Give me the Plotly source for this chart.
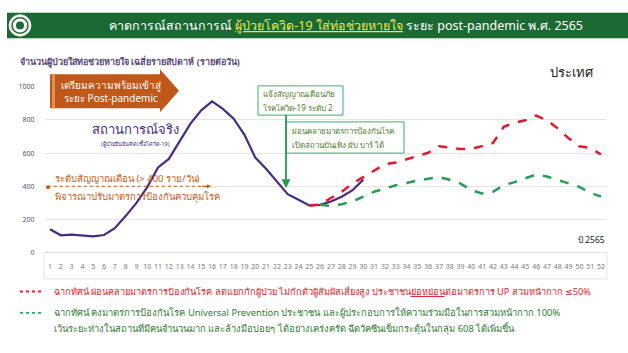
import plotly.graph_objects as go

W, H = 628, 353

weeks_actual = list(range(1, 31))
actual = [141, 104, 108, 105, 98, 106, 147, 220, 300, 395, 514, 565, 670, 778, 858,
          912, 867, 808, 710, 573, 505, 425, 352, 318, 284, 288, 308, 337, 376, 440]

weeks_red = list(range(25, 53))
red = [284, 290, 329, 367, 417, 455, 494, 533, 543, 563, 582, 602, 641, 631, 625,
       625, 641, 661, 759, 784, 798, 827, 798, 749, 690, 641, 631, 592]

weeks_green = list(range(26, 53))
green = [288, 282, 292, 308, 337, 367, 386, 406, 420, 435, 445, 455, 439, 416, 376,
         357, 367, 406, 425, 449, 471, 459, 439, 420, 396, 361, 337]

x_ticks = list(range(1, 53))
y_ticks = [0, 200, 400, 600, 800, 1000]

FONT = "Noto Sans, DejaVu Sans, sans-serif"
PURPLE = "#4b2a84"
RED = "#e3182d"
GREEN = "#23a04f"
ORANGE = "#c55a11"
BOXGREEN = "#3daf6a"
TXTGREEN = "#4d7c2a"


def px(x):
    return x / W


def py(y):
    return 1 - y / H


fig = go.Figure()
fig.add_trace(go.Scatter(x=weeks_actual, y=actual, mode="lines",
                         line=dict(color=PURPLE, width=2.2), hoverinfo="skip"))
fig.add_trace(go.Scatter(x=weeks_green, y=green, mode="lines",
                         line=dict(color=GREEN, width=2.5, dash="dash"), hoverinfo="skip"))
fig.add_trace(go.Scatter(x=weeks_red, y=red, mode="lines",
                         line=dict(color=RED, width=2.5, dash="dash"), hoverinfo="skip"))

x0p, x1p = 44.6, 606.4
fig.update_layout(
    width=W, height=H, margin=dict(l=0, r=0, t=0, b=0),
    paper_bgcolor="white", plot_bgcolor="white", showlegend=False,
    font=dict(family=FONT),
    xaxis=dict(domain=[px(x0p), px(x1p)], range=[0.5, 52.5], tickmode="array",
               tickvals=x_ticks, ticktext=[str(v) for v in x_ticks],
               tickfont=dict(size=7, color="#7a7a7a"), showgrid=False,
               zeroline=False, showline=False, ticks="outside", ticklen=7,
               tickcolor="rgba(0,0,0,0)", fixedrange=True),
    yaxis=dict(domain=[py(254), py(84)], range=[0, 1000], tickmode="array",
               tickvals=y_ticks, ticktext=[str(v) for v in y_ticks],
               tickfont=dict(size=7, color="#5a4a7a"), showgrid=True,
               gridcolor="#e4e4e4", gridwidth=1, zeroline=False, showline=False,
               ticklabelstandoff=9, fixedrange=True),
)

shapes = []
# header band
shapes.append(dict(type="rect", xref="paper", yref="paper", x0=px(7), x1=1,
                   y0=py(34), y1=py(8), fillcolor="#1b6a33", line=dict(width=0), layer="below"))
# logo
shapes.append(dict(type="circle", xref="paper", yref="paper", x0=px(9), x1=px(31),
                   y0=py(32), y1=py(10), fillcolor="white", line=dict(color="#d9d9d9", width=1)))
shapes.append(dict(type="circle", xref="paper", yref="paper", x0=px(12), x1=px(28),
                   y0=py(29), y1=py(13), fillcolor="white", line=dict(color="#1b6a33", width=1.5)))
shapes.append(dict(type="circle", xref="paper", yref="paper", x0=px(16), x1=px(24),
                   y0=py(25), y1=py(17), fillcolor="#1b6a33", line=dict(width=0)))
# x label box
shapes.append(dict(type="rect", xref="paper", yref="paper", x0=px(44), x1=px(607),
                   y0=py(281), y1=py(254), fillcolor="rgba(0,0,0,0)",
                   line=dict(color="#e2e2e2", width=1)))
# orange arrow
pts = [(50, 71), (160, 71), (160, 66), (179, 88), (160, 110), (160, 106), (50, 106)]
path = "M " + " L ".join(f"{px(a):.5f},{py(b):.5f}" for a, b in pts) + " Z"
shapes.append(dict(type="path", xref="paper", yref="paper", path=path,
                   fillcolor="#c0581a", line=dict(width=0)))
shapes.append(dict(type="rect", xref="paper", yref="paper", x0=px(52), x1=px(55),
                   y0=py(106), y1=py(71), fillcolor="#e0915a", line=dict(width=0)))
# 400 dotted line
shapes.append(dict(type="line", xref="x", yref="y", x0=0.8, x1=15.7, y0=400, y1=400,
                   line=dict(color=ORANGE, width=1.2, dash="dot")))
shapes.append(dict(type="circle", xref="paper", yref="paper", x0=px(46), x1=px(50),
                   y0=py(189), y1=py(185), fillcolor=ORANGE, line=dict(width=0)))
# green boxes
shapes.append(dict(type="rect", xref="paper", yref="paper", x0=px(258), x1=px(343),
                   y0=py(113), y1=py(83), fillcolor="white", line=dict(color=BOXGREEN, width=1)))
shapes.append(dict(type="rect", xref="paper", yref="paper", x0=px(286), x1=px(404),
                   y0=py(152), y1=py(120), fillcolor="white", line=dict(color=BOXGREEN, width=1)))
# legend sample lines
shapes.append(dict(type="line", xref="paper", yref="paper", x0=px(20), x1=px(44),
                   y0=py(294), y1=py(294), line=dict(color="#ff1a2e", width=1.8, dash="dot")))
shapes.append(dict(type="line", xref="paper", yref="paper", x0=px(20), x1=px(44),
                   y0=py(316), y1=py(316), line=dict(color="#1fb04f", width=1.8, dash="dot")))
fig.update_layout(shapes=shapes)

ann = []


def txt(x, y, s, size, color, xanchor="left", **kw):
    ann.append(dict(xref="paper", yref="paper", x=px(x), y=py(y), text=s, showarrow=False,
                    xanchor=xanchor, yanchor="middle", font=dict(size=size, color=color, family=FONT), **kw))


txt(346, 21, "คาดการณ์สถานการณ์ <span style='color:#f2e34a'><u>ผู้ป่วยโควิด-19 ใส่ท่อช่วยหายใจ</u></span> ระยะ post-pandemic พ.ศ. 2565",
    12.5, "white", xanchor="center")
txt(18, 58, "<b>จำนวนผู้ป่วยใส่ท่อช่วยหายใจ เฉลี่ยรายสัปดาห์ (รายต่อวัน)</b>", 9, "#5a4a7a")
txt(572, 69, "ประเทศ", 13, "#1a1a1a", xanchor="center")
txt(111, 82, "เตรียมความพร้อมเข้าสู่", 10, "white", xanchor="center")
txt(111, 95, "ระยะ Post-pandemic", 10, "white", xanchor="center")
txt(135, 127, "สถานการณ์จริง", 13, PURPLE, xanchor="center")
txt(135, 143, "(ผู้ป่วยยืนยันติดเชื้อโควิด-19)", 5.5, PURPLE, xanchor="center")
txt(53, 178, "ระดับสัญญาณเตือน (> 400 ราย/วัน)", 9.5, ORANGE)
txt(53, 196, "พิจารณาปรับมาตรการป้องกันควบคุมโรค", 9.5, ORANGE)
txt(261, 91, "แจ้งสัญญาณเตือนภัย", 8, TXTGREEN)
txt(261, 105, "โรคโควิด-19 ระดับ 2", 8, TXTGREEN)
txt(290, 129, "ผ่อนคลายมาตรการป้องกันโรค", 8, TXTGREEN)
txt(290, 143, "เปิดสถานบันเทิง ผับ บาร์ ได้", 8, TXTGREEN)
txt(607, 241, "ปี 2565", 8.5, "#1a1a1a", xanchor="right")
txt(52, 294, "ฉากทัศน์ ผ่อนคลายมาตรการป้องกันโรค ลดแยกกักผู้ป่วย ไม่กักตัวผู้สัมผัสเสี่ยงสูง ประชาชน<u>ย่อหย่อน</u>ต่อมาตรการ UP สวมหน้ากาก ≤50%",
    9.2, RED)
txt(52, 316, "ฉากทัศน์ คงมาตรการป้องกันโรค Universal Prevention ประชาชน และผู้ประกอบการให้ความร่วมมือในการสวมหน้ากาก 100%",
    9.4, "#2e7d32")
txt(52, 332, "เว้นระยะห่างในสถานที่มีคนจำนวนมาก และล้างมือบ่อยๆ ได้อย่างเคร่งครัด ฉีดวัคซีนเข็มกระตุ้นในกลุ่ม 608 ได้เพิ่มขึ้น",
    9.4, "#2e7d32")

# orange arrowhead at end of dotted line
ann.append(dict(xref="x", yref="y", x=15.9, y=400, ax=14.9, ay=400, axref="x", ayref="y",
                text="", showarrow=True, arrowhead=2, arrowsize=0.8, arrowwidth=1, arrowcolor=ORANGE))
# green arrow
ann.append(dict(xref="paper", yref="paper", x=px(286), y=py(188), ax=0, ay=-75,
                text="", showarrow=True, arrowhead=2,
                arrowsize=1, arrowwidth=1.8, arrowcolor=GREEN))
fig.update_layout(annotations=ann)

fig.write_html("out.html")
